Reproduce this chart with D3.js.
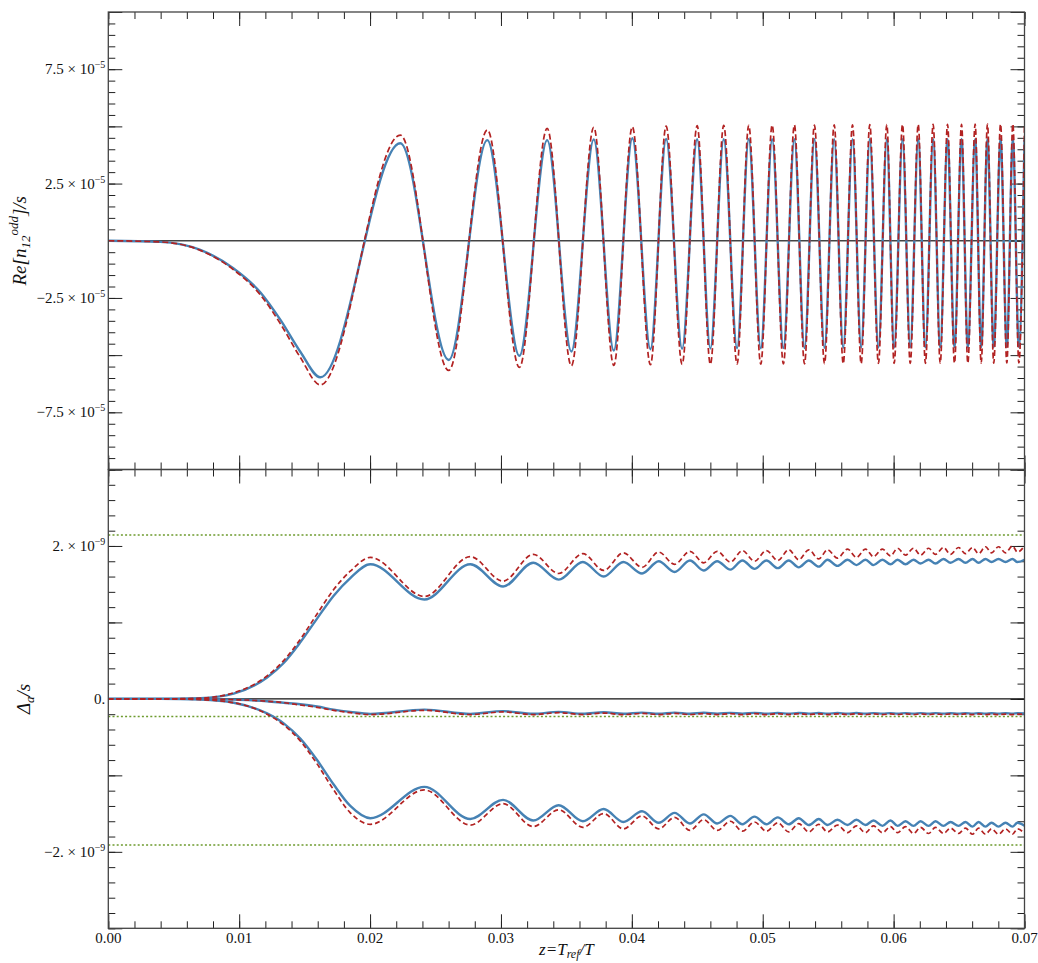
<!DOCTYPE html>
<html>
<head>
<meta charset="utf-8">
<script src="https://cdn.jsdelivr.net/npm/d3@7"></script>
<style>
  body { margin: 0; background: #fff; }
  text { font-family: "Liberation Serif", "DejaVu Serif", serif; fill: #111; }
</style>
</head>
<body>
<div id="chart"></div>
<script>
// ---- data ----
// top panel: z positions (start shape, then successive extrema), values in units of 1e-5
var topZ = [0, 0.00397, 0.00703, 0.00955, 0.01161, 0.01314, 0.01467, 0.01620, 0.02231,
  0.02601, 0.02896, 0.03141, 0.03353, 0.03538, 0.03709, 0.03862, 0.04004, 0.04142, 0.04262,
  0.04384, 0.04499, 0.04600, 0.04702, 0.04804, 0.04893, 0.04985, 0.05072, 0.05158, 0.05242,
  0.05319, 0.05395, 0.05472, 0.05546, 0.05615, 0.05686, 0.05752, 0.05818, 0.05884, 0.05948,
  0.06004, 0.06068, 0.06127, 0.06188, 0.06243, 0.06302, 0.06356, 0.06412, 0.06465, 0.06519,
  0.06567, 0.06623, 0.06669, 0.06717, 0.06765, 0.06817, 0.06865, 0.06911, 0.06957, 0.07000];
var topBlue = [0, -0.05, -0.40, -1.20, -2.25, -3.45, -4.85, -5.97, 4.26,
  -5.21, 4.40, -5.03, 4.40, -4.84, 4.43, -4.80, 4.48, -4.74, 4.45,
  -4.72, 4.44, -4.71, 4.44, -4.70, 4.45, -4.70, 4.44, -4.69, 4.44,
  -4.69, 4.45, -4.68, 4.44, -4.68, 4.44, -4.67, 4.45, -4.67, 4.44,
  -4.67, 4.44, -4.66, 4.45, -4.66, 4.44, -4.66, 4.44, -4.65, 4.45,
  -4.65, 4.44, -4.65, 4.44, -4.64, 4.45, -4.64, 4.44, -4.64, 4.40];
var topRed = [0, -0.05, -0.42, -1.26, -2.36, -3.62, -5.10, -6.30, 4.62,
  -5.67, 4.84, -5.54, 4.91, -5.47, 4.96, -5.45, 4.98, -5.42, 5.01,
  -5.40, 5.03, -5.40, 5.04, -5.39, 5.05, -5.39, 5.05, -5.38, 5.06,
  -5.38, 5.06, -5.37, 5.07, -5.37, 5.07, -5.37, 5.08, -5.36, 5.08,
  -5.36, 5.08, -5.36, 5.09, -5.36, 5.09, -5.35, 5.09, -5.35, 5.09,
  -5.35, 5.10, -5.35, 5.10, -5.35, 5.10, -5.34, 5.10, -5.34, 5.05];

// bottom panel: z positions, values in units of 1e-9
var botZ = [0, 0.00397, 0.00703, 0.00958, 0.01213, 0.01340, 0.01467, 0.01595, 0.01722, 0.01849,
  0.02002, 0.02415, 0.02766, 0.03016, 0.03247, 0.03441, 0.03626, 0.03785, 0.03935, 0.04078,
  0.04205, 0.04327, 0.04444, 0.04549, 0.04652, 0.04753, 0.04845, 0.04937, 0.05028, 0.05115,
  0.05199, 0.05275, 0.05352, 0.05428, 0.05495, 0.05571, 0.05648, 0.05716, 0.05785, 0.05846,
  0.05915, 0.05976, 0.06030, 0.06091, 0.06152, 0.06206, 0.06267, 0.06320, 0.06381, 0.06435,
  0.06496, 0.06549, 0.06603, 0.06649, 0.06702, 0.06748, 0.06801, 0.06855, 0.06908, 0.06946, 0.07000];
var upBlue = [0, 0, 0.01, 0.07, 0.28, 0.47, 0.74, 1.05, 1.35, 1.58,
  1.76, 1.30, 1.76, 1.47, 1.78, 1.56, 1.79, 1.60, 1.79, 1.64,
  1.80, 1.66, 1.81, 1.68, 1.80, 1.69, 1.81, 1.70, 1.81, 1.71,
  1.81, 1.72, 1.81, 1.73, 1.82, 1.74, 1.82, 1.75, 1.82, 1.75,
  1.82, 1.76, 1.82, 1.76, 1.82, 1.77, 1.82, 1.77, 1.83, 1.78,
  1.83, 1.78, 1.83, 1.78, 1.83, 1.79, 1.83, 1.79, 1.83, 1.79, 1.82];
var upRed = [0, 0, 0.01, 0.08, 0.30, 0.50, 0.78, 1.11, 1.43, 1.67,
  1.85, 1.34, 1.86, 1.54, 1.89, 1.64, 1.90, 1.68, 1.91, 1.72,
  1.92, 1.76, 1.93, 1.78, 1.93, 1.79, 1.94, 1.80, 1.94, 1.81,
  1.95, 1.82, 1.95, 1.83, 1.95, 1.84, 1.96, 1.85, 1.96, 1.86,
  1.96, 1.87, 1.97, 1.88, 1.97, 1.88, 1.97, 1.89, 1.98, 1.89,
  1.98, 1.90, 1.98, 1.90, 1.99, 1.91, 1.99, 1.91, 2.00, 1.92, 2.00];
var midBlue = [0, 0, 0, -0.01, -0.03, -0.05, -0.07, -0.10, -0.14, -0.17,
  -0.196, -0.14, -0.196, -0.16, -0.195, -0.17, -0.195, -0.175, -0.195, -0.18,
  -0.195, -0.18, -0.195, -0.182, -0.194, -0.183, -0.194, -0.183, -0.194, -0.184,
  -0.194, -0.184, -0.193, -0.185, -0.193, -0.185, -0.193, -0.185, -0.193, -0.186,
  -0.193, -0.186, -0.193, -0.186, -0.192, -0.186, -0.192, -0.186, -0.192, -0.187,
  -0.192, -0.187, -0.192, -0.187, -0.192, -0.187, -0.192, -0.187, -0.192, -0.187, -0.19];
var midRed = [0, 0, 0, -0.01, -0.03, -0.05, -0.08, -0.11, -0.15, -0.18,
  -0.205, -0.15, -0.205, -0.17, -0.205, -0.18, -0.205, -0.185, -0.205, -0.19,
  -0.205, -0.19, -0.205, -0.192, -0.205, -0.193, -0.205, -0.193, -0.205, -0.194,
  -0.205, -0.194, -0.205, -0.195, -0.205, -0.195, -0.205, -0.195, -0.205, -0.196,
  -0.205, -0.196, -0.205, -0.196, -0.205, -0.196, -0.205, -0.197, -0.205, -0.197,
  -0.205, -0.197, -0.205, -0.197, -0.205, -0.198, -0.205, -0.198, -0.205, -0.198, -0.20];
var lowBlue = [0, 0, -0.01, -0.05, -0.19, -0.32, -0.52, -0.80, -1.12, -1.40,
  -1.56, -1.15, -1.57, -1.32, -1.59, -1.39, -1.60, -1.44, -1.61, -1.47,
  -1.62, -1.49, -1.63, -1.51, -1.63, -1.53, -1.64, -1.54, -1.64, -1.55,
  -1.64, -1.56, -1.65, -1.57, -1.65, -1.58, -1.65, -1.58, -1.65, -1.59,
  -1.66, -1.59, -1.66, -1.60, -1.66, -1.60, -1.66, -1.60, -1.66, -1.61,
  -1.66, -1.61, -1.67, -1.61, -1.67, -1.62, -1.67, -1.62, -1.67, -1.62, -1.66];
var lowRed = [0, 0, -0.01, -0.05, -0.20, -0.34, -0.55, -0.85, -1.19, -1.49,
  -1.64, -1.19, -1.65, -1.37, -1.67, -1.45, -1.68, -1.50, -1.70, -1.53,
  -1.70, -1.55, -1.72, -1.58, -1.72, -1.60, -1.73, -1.61, -1.73, -1.62,
  -1.74, -1.63, -1.74, -1.64, -1.74, -1.65, -1.75, -1.66, -1.75, -1.66,
  -1.75, -1.67, -1.75, -1.67, -1.76, -1.68, -1.76, -1.68, -1.76, -1.69,
  -1.76, -1.69, -1.77, -1.69, -1.77, -1.70, -1.77, -1.70, -1.77, -1.70, -1.76];
var greenLevels = [2.144, -0.23, -1.91];   // 1e-9

// ticks
var xMajor = [0, 0.01, 0.02, 0.03, 0.04, 0.05, 0.06, 0.07];
var xLabels = ["0.00", "0.01", "0.02", "0.03", "0.04", "0.05", "0.06", "0.07"];
var topLabelVals = [7.5, 2.5, -2.5, -7.5];
var botLabelVals = [2, 0, -2];

// ---- layout ----
var svgWidth = 1038, svgHeight = 963;
var left = 108.3, right = 1024.5;
var topY0 = 12, midY = 469.5, botY1 = 928.3;
var serif = "'Liberation Serif', 'DejaVu Serif', 'Times New Roman', serif";

var svg = d3.select("#chart").append("svg")
  .attr("width", svgWidth)
  .attr("height", svgHeight)
  .attr("font-family", serif);

var x = d3.scaleLinear().domain([0, 0.07]).range([left, right]);
var yTop = d3.scaleLinear().domain([-1e-4, 1e-4]).range([midY, topY0]);
var yBot = d3.scaleLinear().domain([-3e-9, 3e-9]).range([botY1, midY]);

var defs = svg.append("defs");
defs.append("clipPath").attr("id", "clipTop").append("rect")
  .attr("x", left).attr("y", topY0).attr("width", right - left).attr("height", midY - topY0);
defs.append("clipPath").attr("id", "clipBot").append("rect")
  .attr("x", left).attr("y", midY).attr("width", right - left).attr("height", botY1 - midY);

var blue = "#4682b4", red = "#b22222", green = "#6d9b2e";

// ---- ticks (all pointing inward) ----
function tickRow(axis, scale, vals, size, tx, ty) {
  var g = svg.append("g")
    .attr("transform", "translate(" + tx + "," + ty + ")")
    .call(axis(scale).tickValues(vals).tickSize(-size).tickFormat(""));
  g.select(".domain").remove();
  g.selectAll("line").attr("stroke", "#222").attr("stroke-width", 1);
}

var xMinor = d3.range(0, 36).map(function(i) { return i * 0.002; });
[topY0, midY, botY1].forEach(function(yy, k) {
  if (k > 0) {
    tickRow(d3.axisBottom, x, xMinor, 7, 0, yy);
    tickRow(d3.axisBottom, x, xMajor, 14, 0, yy);
  }
  if (k < 2) {
    tickRow(d3.axisTop, x, xMinor, 7, 0, yy);
    tickRow(d3.axisTop, x, xMajor, 14, 0, yy);
  }
});

var topMinor = d3.range(-20, 21).map(function(i) { return i * 0.5e-5; });
var topMajor = d3.range(-4, 5).map(function(i) { return i * 2.5e-5; });
var botMinor = d3.range(-15, 16).map(function(i) { return i * 0.2e-9; });
var botMajor = d3.range(-3, 4).map(function(i) { return i * 1e-9; });

[[yTop, topMinor, topMajor], [yBot, botMinor, botMajor]].forEach(function(p) {
  tickRow(d3.axisLeft, p[0], p[1], 7, left, 0);
  tickRow(d3.axisLeft, p[0], p[2], 14, left, 0);
  tickRow(d3.axisRight, p[0], p[1], 7, right, 0);
  tickRow(d3.axisRight, p[0], p[2], 14, right, 0);
});

// ---- zero lines and reference levels ----
svg.append("line")
  .attr("x1", left).attr("x2", right)
  .attr("y1", yTop(0)).attr("y2", yTop(0))
  .attr("stroke", "#444").attr("stroke-width", 1.3);
svg.append("line")
  .attr("x1", left).attr("x2", right)
  .attr("y1", yBot(0)).attr("y2", yBot(0))
  .attr("stroke", "#111").attr("stroke-width", 1.2);

svg.append("g").selectAll("line")
  .data(greenLevels)
  .enter()
  .append("line")
  .attr("x1", left).attr("x2", right)
  .attr("y1", function(d) { return yBot(d * 1e-9); })
  .attr("y2", function(d) { return yBot(d * 1e-9); })
  .attr("stroke", green)
  .attr("stroke-width", 1.6)
  .attr("stroke-dasharray", "2,2.2");

// ---- curves ----
function drawCurve(zs, vals, unit, yScale, clip, color, width, dash) {
  var line = d3.line()
    .x(function(d, i) { return x(zs[i]); })
    .y(function(d) { return yScale(d * unit); })
    .curve(d3.curveMonotoneX);
  var p = svg.append("path")
    .datum(vals)
    .attr("clip-path", "url(#" + clip + ")")
    .attr("fill", "none")
    .attr("stroke", color)
    .attr("stroke-width", width)
    .attr("stroke-linejoin", "round")
    .attr("d", line);
  if (dash) p.attr("stroke-dasharray", dash);
}

drawCurve(topZ, topBlue, 1e-5, yTop, "clipTop", blue, 2.4);
drawCurve(topZ, topRed, 1e-5, yTop, "clipTop", red, 1.7, "6,3");

[upBlue, midBlue, lowBlue].forEach(function(s) {
  drawCurve(botZ, s, 1e-9, yBot, "clipBot", blue, 2.4);
});
[upRed, midRed, lowRed].forEach(function(s) {
  drawCurve(botZ, s, 1e-9, yBot, "clipBot", red, 1.7, "5,3");
});

// ---- frames ----
[[topY0, midY], [midY, botY1]].forEach(function(r) {
  svg.append("rect")
    .attr("x", left).attr("y", r[0])
    .attr("width", right - left).attr("height", r[1] - r[0])
    .attr("fill", "none")
    .attr("stroke", "#444")
    .attr("stroke-width", 1.3);
});

// ---- tick labels ----
svg.append("g").selectAll("text")
  .data(xMajor)
  .enter()
  .append("text")
  .attr("x", function(d) { return x(d); })
  .attr("y", botY1 + 4)
  .attr("dy", "0.71em")
  .attr("text-anchor", "middle")
  .attr("font-family", serif)
  .style("font-size", "15px")
  .text(function(d, i) { return xLabels[i]; });

function sciLabel(yScale, v, unit, mant, expo) {
  var t = svg.append("text")
    .attr("x", left - 3)
    .attr("y", yScale(v * unit))
    .attr("dy", "0.33em")
    .attr("text-anchor", "end")
    .attr("font-family", serif)
    .style("font-size", "15px");
  if (expo === null) {
    t.text(mant);
    return;
  }
  t.append("tspan").text(mant + " \u00d7 10");
  t.append("tspan").attr("dy", "-0.6em").style("font-size", "10px").text(expo);
}

topLabelVals.forEach(function(v) {
  var m = (v < 0 ? "\u2212" : "") + Math.abs(v).toFixed(1);
  sciLabel(yTop, v, 1e-5, m, "\u22125");
});
botLabelVals.forEach(function(v) {
  if (v === 0) { sciLabel(yBot, 0, 1e-9, "0.", null); return; }
  var m = (v < 0 ? "\u2212" : "") + Math.abs(v) + ".";
  sciLabel(yBot, v, 1e-9, m, "\u22129");
});

// ---- axis titles ----
var t1 = svg.append("text")
  .attr("transform", "translate(26," + ((topY0 + midY) / 2) + ") rotate(-90)")
  .attr("text-anchor", "middle")
  .attr("font-family", serif)
  .style("font-size", "19px")
  .style("font-style", "italic");
t1.append("tspan").text("Re[n");
t1.append("tspan").attr("dy", "4").style("font-size", "13px").text("12");
t1.append("tspan").attr("dy", "-12").style("font-size", "13px").text("odd");
t1.append("tspan").attr("dy", "8").text("]/s");

var t2 = svg.append("text")
  .attr("transform", "translate(30," + ((midY + botY1) / 2) + ") rotate(-90)")
  .attr("text-anchor", "middle")
  .attr("font-family", serif)
  .style("font-size", "19px")
  .style("font-style", "italic");
t2.append("tspan").text("\u0394");
t2.append("tspan").attr("dy", "4").style("font-size", "13px").text("a");
t2.append("tspan").attr("dy", "-4").text("/s");

var t3 = svg.append("text")
  .attr("x", (left + right) / 2)
  .attr("y", 955)
  .attr("text-anchor", "middle")
  .attr("font-family", serif)
  .style("font-size", "17px")
  .style("font-style", "italic");
t3.append("tspan").text("z=T");
t3.append("tspan").attr("dy", "3").style("font-size", "12px").text("ref");
t3.append("tspan").attr("dy", "-3").text("/T");
</script>
</body>
</html>
